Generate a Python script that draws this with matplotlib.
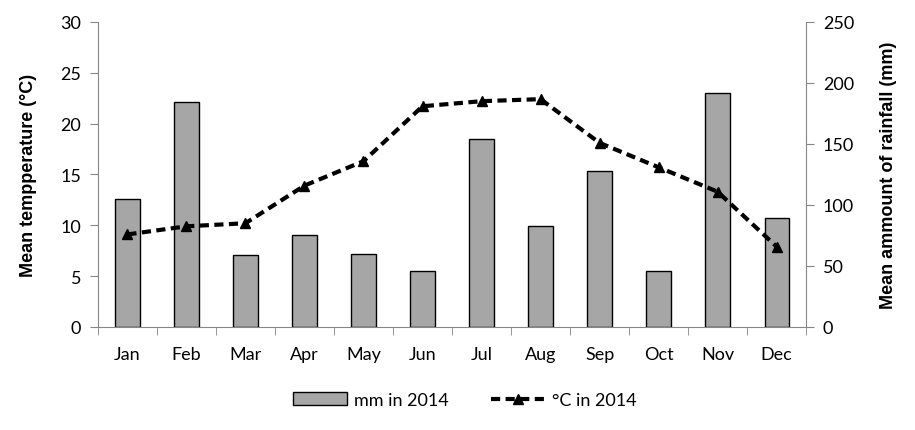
import numpy as np
import matplotlib.pyplot as plt
from matplotlib.ticker import MultipleLocator

plt.rcParams['font.family'] = ['Lato', 'DejaVu Sans']

months = ['Jan', 'Feb', 'Mar', 'Apr', 'May', 'Jun',
          'Jul', 'Aug', 'Sep', 'Oct', 'Nov', 'Dec']
rain_mm = [105, 184, 59, 75, 60, 46, 154, 83, 128, 46, 192, 89]
temp_c = [9.1, 9.9, 10.2, 13.9, 16.3, 21.7, 22.2, 22.4, 18.1, 15.7, 13.3, 7.9]

grey = '#868686'

fig = plt.figure(figsize=(9.15, 4.31), dpi=100)
ax = fig.add_axes([0.107, 0.239, 0.774, 0.708])
ax2 = ax.twinx()

x = np.arange(len(months))
bars = ax2.bar(x, rain_mm, width=0.41, color='#A6A6A6', edgecolor='black',
               linewidth=1, label='mm in 2014')
line, = ax.plot(x, temp_c, color='black', linestyle=(0, (2.2, 1.3)), linewidth=3,
                marker='^', markersize=7, label='°C in 2014')

# line above the bars
ax.set_zorder(ax2.get_zorder() + 1)
ax.patch.set_visible(False)

ax.set_xlim(-0.5, 11.5)
ax.set_ylim(0, 30)
ax2.set_ylim(0, 250)
ax.yaxis.set_major_locator(MultipleLocator(5))
ax2.yaxis.set_major_locator(MultipleLocator(50))

ax.set_xticks(x)
ax.set_xticklabels(months)
ax.set_xticks(np.arange(-0.5, 12, 1), minor=True)
ax.tick_params(axis='x', which='major', length=0, pad=14, labelsize=13)
ax.tick_params(axis='x', which='minor', length=6, color=grey, direction='out')
ax.tick_params(axis='y', length=6, color=grey, labelsize=13, pad=6)
ax2.tick_params(axis='y', length=6, color=grey, labelsize=13, pad=6)

for a in (ax, ax2):
    a.spines['top'].set_visible(False)
    for s in ('left', 'right', 'bottom'):
        a.spines[s].set_color(grey)
ax.spines['right'].set_visible(False)
ax2.spines['left'].set_visible(False)
ax2.spines['bottom'].set_visible(False)

ax.set_ylabel('Mean tempperature (°C)', labelpad=17,
              family='Liberation Sans', fontsize=13, fontweight='bold')
ax2.set_ylabel('Mean ammount of rainfall (mm)', labelpad=19,
               family='Liberation Sans', fontsize=13, fontweight='bold')

fig.legend([bars, line], ['mm in 2014', '°C in 2014'], loc='center',
           bbox_to_anchor=(0.508, 0.07), ncol=2, frameon=False, fontsize=13,
           handlelength=3.0, handletextpad=0.4, columnspacing=2.3)

fig.savefig('out.png', dpi=100)
